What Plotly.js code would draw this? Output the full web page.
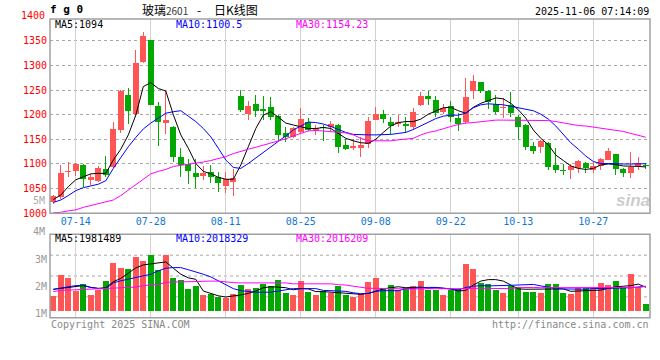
<!DOCTYPE html>
<html><head><meta charset="utf-8">
<script src="https://cdn.plot.ly/plotly-3.0.1.min.js"></script>
<style>html,body{margin:0;padding:0;background:#fff}#c{width:660px;height:360px}</style>
</head><body><div id="c"></div>
<script>
const dates = ['07-09','07-10','07-11','07-14','07-15','07-16','07-17','07-18','07-21','07-22',
 '07-23','07-24','07-25','07-28','07-29','07-30','07-31','08-01','08-04','08-05',
 '08-06','08-07','08-08','08-11','08-12','08-13','08-14','08-15','08-18','08-19',
 '08-20','08-21','08-22','08-25','08-26','08-27','08-28','08-29','09-01','09-02',
 '09-03','09-04','09-05','09-08','09-09','09-10','09-11','09-12','09-15','09-16',
 '09-17','09-18','09-19','09-22','09-23','09-24','09-25','09-26','09-29','09-30',
 '10-09','10-10','10-13','10-14','10-15','10-16','10-17','10-20','10-21','10-22',
 '10-23','10-24','10-27','10-28','10-29','10-30','10-31','11-03','11-04','11-05'];
const tickLabels = ['07-14','07-28','08-11','08-25','09-08','09-22','10-13','10-27'];

const open  = [1022,1034,1083,1085,1097,1068,1066,1089,1093,1169, 1240,1201,1306,1351,1218,1184,1174,1115,1100,1081,
 1076,1084,1074,1056,1064,1238,1201,1222,1212,1215, 1197,1162,1154,1164,1186,1168,1176,1174,1179,1139,
 1132,1132,1141,1189,1201,1185,1181,1181,1176,1220, 1238,1230,1205,1218,1194,1186,1248,1266,1249,1222,
 1213,1220,1196,1179,1137,1134,1143,1098,1088,1087, 1091,1103,1088,1096,1109,1120,1089,1082,1095,1098];
const high  = [1037,1097,1105,1103,1100,1080,1095,1116,1186,1250, 1255,1331,1367,1352,1226,1251,1177,1132,1111,1111,
 1095,1098,1084,1083,1089,1250,1228,1240,1238,1235, 1199,1174,1176,1214,1193,1179,1179,1188,1181,1150,
 1150,1155,1196,1215,1209,1195,1199,1196,1213,1245, 1247,1237,1221,1228,1203,1274,1280,1267,1250,1240,
 1233,1245,1199,1181,1145,1149,1145,1132,1100,1100, 1108,1105,1105,1112,1132,1120,1091,1125,1115,1103];
const low   = [1018,1030,1074,1075,1054,1057,1064,1074,1091,1162, 1181,1196,1305,1219,1137,1160,1105,1074,1059,1051,
 1068,1061,1044,1042,1036,1206,1189,1196,1189,1189, 1147,1145,1152,1162,1166,1159,1147,1166,1123,1128,
 1128,1115,1132,1189,1183,1160,1176,1162,1169,1218, 1220,1196,1201,1186,1166,1182,1232,1243,1211,1201,
 1193,1196,1149,1128,1120,1123,1088,1082,1078,1070, 1082,1081,1082,1088,1108,1078,1074,1071,1087,1089];
const close = [1035,1081,1086,1100,1069,1074,1091,1078,1170,1248, 1208,1305,1360,1220,1186,1189,1115,1098,1085,1074,
 1081,1074,1061,1069,1071,1210,1218,1208,1208,1196, 1159,1154,1172,1191,1169,1172,1172,1181,1135,1130,
 1137,1139,1187,1201,1191,1177,1185,1178,1206,1237, 1231,1204,1213,1196,1181,1235,1268,1249,1226,1206,
 1215,1204,1176,1135,1127,1147,1093,1088,1085,1096, 1106,1091,1095,1111,1126,1090,1082,1093,1103,1096];

const ma5  = [1028,1037,1054,1068,1074,1080,1081,1081,1108,1130, 1159,1199,1257,1265,1253,1248,1200,1159,1132,1101,
 1085,1080,1073,1069,1069,1098,1135,1172,1199,1206, 1195,1183,1179,1176,1172,1172,1174,1172,1162,1152,
 1147,1143,1142,1150,1164,1177,1184,1186,1186,1191, 1201,1208,1214,1215,1208,1203,1215,1223,1228,1234,
 1232,1223,1210,1193,1169,1152,1139,1118,1107,1096, 1091,1089,1091,1098,1100,1099,1096,1096,1095,1094];
const ma10 = [1022,1027,1036,1046,1052,1055,1059,1066,1091,1113, 1135,1154,1171,1183,1193,1203,1206,1208,1197,1186,
 1172,1155,1132,1108,1093,1091,1101,1112,1123,1135, 1145,1157,1169,1177,1185,1184,1181,1176,1170,1164,
 1160,1159,1159,1159,1159,1160,1162,1164,1170,1177, 1185,1192,1197,1199,1199,1203,1214,1220,1222,1221,
 1220,1217,1214,1211,1208,1201,1191,1177,1159,1143, 1130,1116,1105,1101,1101,1100,1100,1100,1100,1100.5];
const ma30 = [1001,1002,1005,1007,1012,1016,1019,1023,1027,1036, 1047,1057,1068,1080,1085,1089,1095,1097,1100,1101,
 1104,1107,1111,1115,1121,1126,1130,1134,1138,1142, 1147,1151,1157,1162,1167,1168,1167,1166,1165,1163,
 1159,1152,1147,1147,1147,1147,1149,1150,1152,1159, 1164,1167,1172,1176,1180,1183,1184,1186,1188,1189,
 1189,1189,1189,1189,1189,1189,1188,1186,1183,1181, 1178,1177,1175,1172,1170,1168,1166,1162,1158,1154.23];

const volume = [1654e3,2433e3,2322e3,1855e3,2099e3,1699e3,1877e3,2211e3,2878e3,2700e3,
 2655e3,3100e3,2956e3,3178e3,2622e3,3178e3,2322e3,2255e3,1921e3,2033e3,
 1699e3,1732e3,1621e3,1588e3,1732e3,2066e3,1921e3,1955e3,2099e3,2033e3,
 2255e3,1766e3,1699e3,2211e3,1810e3,1699e3,1843e3,1766e3,2033e3,1699e3,
 1621e3,1732e3,2177e3,2322e3,1955e3,2066e3,1877e3,1955e3,2033e3,2211e3,
 1877e3,1877e3,1699e3,1899e3,1921e3,2845e3,2655e3,2144e3,2099e3,1877e3,
 1766e3,2033e3,1988e3,1810e3,1810e3,1766e3,2099e3,2099e3,1766e3,1732e3,
 1955e3,1944e3,1944e3,2144e3,2066e3,2211e3,1955e3,2478e3,1988e3,1354e3];
const vma5 = [1905e3,1944e3,1966e3,2000e3,2044e3,1977e3,1944e3,1966e3,2188e3,2311e3,
 2500e3,2700e3,2811e3,2845e3,2867e3,2923e3,2689e3,2466e3,2333e3,2277e3,
 1843e3,1755e3,1666e3,1621e3,1654e3,1699e3,1755e3,1843e3,1966e3,2000e3,
 1988e3,1966e3,1888e3,1933e3,1921e3,1821e3,1821e3,1799e3,1777e3,1755e3,
 1743e3,1721e3,1755e3,1843e3,1921e3,1966e3,2000e3,1966e3,1977e3,1988e3,
 1944e3,1966e3,1944e3,1921e3,1843e3,1866e3,2066e3,2211e3,2266e3,2266e3,
 2211e3,2066e3,1921e3,1910e3,1910e3,1921e3,1910e3,1910e3,1921e3,1832e3,
 1843e3,1843e3,1843e3,1877e3,1944e3,2000e3,2021e3,2044e3,2100e3,1981e3];
const vma10 = [1905e3,1966e3,2000e3,2044e3,2055e3,1977e3,1932e3,1932e3,2144e3,2222e3,
 2277e3,2333e3,2411e3,2466e3,2589e3,2689e3,2711e3,2711e3,2633e3,2555e3,
 2466e3,2366e3,2211e3,2066e3,1932e3,1855e3,1821e3,1799e3,1799e3,1799e3,
 1843e3,1888e3,1932e3,1932e3,1932e3,1932e3,1866e3,1855e3,1855e3,1832e3,
 1777e3,1743e3,1755e3,1832e3,1855e3,1855e3,1855e3,1932e3,1955e3,1966e3,
 1977e3,1977e3,1955e3,1921e3,1877e3,1977e3,2021e3,2044e3,2033e3,2033e3,
 2044e3,2055e3,2066e3,2077e3,2088e3,2033e3,1977e3,1932e3,1921e3,1910e3,
 1910e3,1910e3,1932e3,1932e3,1932e3,1944e3,1955e3,1966e3,1988e3,2018e3];
const vma30 = [1821e3,1866e3,1877e3,1888e3,1910e3,1910e3,1921e3,1932e3,1944e3,1944e3,
 1966e3,1988e3,2044e3,2066e3,2088e3,2166e3,2177e3,2188e3,2199e3,2199e3,
 2211e3,2211e3,2211e3,2177e3,2155e3,2144e3,2144e3,2155e3,2166e3,2166e3,
 2155e3,2144e3,2110e3,2099e3,2110e3,2110e3,2110e3,2110e3,2077e3,2066e3,
 2021e3,1977e3,1944e3,1944e3,1932e3,1921e3,1921e3,1921e3,1921e3,1921e3,
 1921e3,1921e3,1921e3,1932e3,1910e3,1932e3,1944e3,1944e3,1944e3,1932e3,
 1921e3,1932e3,1966e3,1977e3,1977e3,1966e3,1966e3,1966e3,1966e3,1977e3,
 1977e3,1977e3,1977e3,1977e3,1966e3,1966e3,1966e3,1966e3,1977e3,2016e3];

const RED = '#ff5555', GREEN = '#00a800';
const idx = dates.map((d, i) => i);
const up = close.map((c, i) => c >= open[i]);
const cols = up.map(u => u ? RED : GREEN);
const VBASE = 1113e3;
const PRANGE = [1000, 1394], VRANGE = [0.854e6, 3.946e6];

const W = 660, H = 360;
const px = x => x / W, py = y => 1 - y / H;
const MONO = 'DejaVu Sans Mono';
const GRID = '#a8a8a8';
const tickIdx = tickLabels.map(d => dates.indexOf(d));

const traces = [
  // vertical date grid (thin light bars spanning each panel at the labelled dates)
  {type:'bar', x:tickIdx, base:PRANGE[0], y:tickIdx.map(() => PRANGE[1] - PRANGE[0]), width:0.13,
   marker:{color:'#d2d2d2', line:{width:0}}, xaxis:'x', yaxis:'y', hoverinfo:'skip'},
  {type:'bar', x:tickIdx, base:VRANGE[0], y:tickIdx.map(() => VRANGE[1] - VRANGE[0]), width:0.13,
   marker:{color:'#d2d2d2', line:{width:0}}, xaxis:'x2', yaxis:'y2', hoverinfo:'skip'},
  {type:'bar', x:idx, base:low, y:high.map((h,i)=>h-low[i]), width:0.15,
   marker:{color:cols, line:{width:0}}, xaxis:'x', yaxis:'y', hoverinfo:'skip'},
  {type:'bar', x:idx, base:open.map((o,i)=>Math.min(o,close[i])),
   y:open.map((o,i)=>Math.max(Math.abs(close[i]-o),1.6)), width:0.8,
   marker:{color:cols, line:{width:0}}, xaxis:'x', yaxis:'y', hoverinfo:'skip'},
  {type:'scatter', mode:'lines', x:idx, y:ma5, line:{color:'#000000', width:1}, xaxis:'x', yaxis:'y'},
  {type:'scatter', mode:'lines', x:idx, y:ma10, line:{color:'#0000ff', width:1}, xaxis:'x', yaxis:'y'},
  {type:'scatter', mode:'lines', x:idx, y:ma30, line:{color:'#ff00ff', width:1}, xaxis:'x', yaxis:'y'},
  {type:'bar', x:idx, base:VBASE, y:volume.map(v=>v-VBASE), width:0.8,
   marker:{color:cols, line:{width:0}}, xaxis:'x2', yaxis:'y2', hoverinfo:'skip'},
  {type:'scatter', mode:'lines', x:idx, y:vma5, line:{color:'#000000', width:1}, xaxis:'x2', yaxis:'y2'},
  {type:'scatter', mode:'lines', x:idx, y:vma10, line:{color:'#0000ff', width:1}, xaxis:'x2', yaxis:'y2'},
  {type:'scatter', mode:'lines', x:idx, y:vma30, line:{color:'#ff00ff', width:1}, xaxis:'x2', yaxis:'y2'}
];

const xDom = [px(50), px(650)];
const xr = [-0.44, dates.length - 0.44];

function ann(text, x, y, color, anchor, size, extra) {
  return Object.assign({text:text, x:px(x), y:py(y), xref:'paper', yref:'paper', showarrow:false,
    xanchor:anchor, yanchor:'middle', font:{family:MONO, size:size||10, color:color}}, extra||{});
}
const CJK = {family:'Noto Sans CJK SC', size:12, color:'#000'};

const layout = {
  width:W, height:H, margin:{l:0,r:0,t:0,b:0}, paper_bgcolor:'#ffffff', plot_bgcolor:'#ffffff',
  showlegend:false, barmode:'overlay', bargap:0,
  xaxis:{domain:xDom, range:xr, anchor:'y', type:'linear', tickmode:'array', tickvals:tickIdx, ticktext:tickLabels,
    ticks:'', showticklabels:true, tickfont:{family:MONO, size:10, color:'#1078d0'}, ticklabelstandoff:1,
    showgrid:true, gridcolor:GRID, griddash:'dot', gridwidth:1, zeroline:false, showline:false},
  xaxis2:{domain:xDom, range:xr, anchor:'y2', type:'linear', tickmode:'array', tickvals:tickIdx, ticks:'',
    showticklabels:false, showgrid:true, gridcolor:GRID, griddash:'dot', gridwidth:1, zeroline:false, showline:false},
  yaxis:{domain:[py(213.3), py(19)], range:PRANGE, anchor:'x', tick0:1000, dtick:50, ticks:'',
    tickfont:{family:MONO, size:10, color:'#ff0000'}, showgrid:true, gridcolor:GRID, griddash:'dot', gridwidth:1,
    zeroline:false, showline:false, ticklabelstandoff:2},
  yaxis2:{domain:[py(317.7), py(234.3)], range:VRANGE, anchor:'x2', tickvals:[1e6,2e6,3e6],
    ticktext:['1M','2M','3M'], ticks:'', tickfont:{family:MONO, size:10, color:'#999999'}, showgrid:false,
    zeroline:false, showline:false, ticklabelstandoff:2},
  shapes:[
    {type:'line', xref:'paper', yref:'paper', x0:px(50), x1:px(650), y0:py(255.2), y1:py(255.2), line:{color:GRID, width:1, dash:'dot'}, layer:'below'},
    {type:'line', xref:'paper', yref:'paper', x0:px(50), x1:px(650), y0:py(276), y1:py(276), line:{color:GRID, width:1, dash:'dot'}, layer:'below'},
    {type:'line', xref:'paper', yref:'paper', x0:px(50), x1:px(650), y0:py(296.9), y1:py(296.9), line:{color:GRID, width:1, dash:'dot'}, layer:'below'},
    {type:'rect', xref:'paper', yref:'paper', x0:px(50), x1:px(650), y0:py(213.3), y1:py(19), line:{color:'#a0a0a0', width:1.5}},
    {type:'rect', xref:'paper', yref:'paper', x0:px(50), x1:px(650), y0:py(317.7), y1:py(234.3), line:{color:'#a0a0a0', width:1.5}}
  ],
  annotations:[
    ann('<b>f g 0</b>', 48, 9, '#000000', 'left', 11),
    ann('玻璃<span style="font-size:10px;color:#333">2601</span>', 140, 9, '#000', 'left', 12, {font:CJK}),
    ann('-', 199, 9, '#000', 'center', 12, {font:CJK}),
    ann('日K线图', 212, 9, '#000', 'left', 12, {font:CJK}),
    ann('2025-11-06 07:14:09', 651, 11, '#000000', 'right', 10),
    ann('1400', 47, 16, '#ff0000', 'right', 10),
    ann('MA5:1094', 53, 25, '#000000', 'left', 10),
    ann('MA10:1100.5', 174, 25, '#0000ff', 'left', 10),
    ann('MA30:1154.23', 294, 25, '#ff00ff', 'left', 10),
    ann('5M', 47, 200, '#aaaaaa', 'right', 10),
    ann('<b><i>sina</i></b>', 652, 200, 'rgba(160,160,160,0.55)', 'right', 16, {font:{family:'Liberation Sans', size:17, color:'rgba(160,160,160,0.55)'}}),
    ann('4M', 47, 231, '#999999', 'right', 10),
    ann('MA5:1981489', 53, 238, '#000000', 'left', 10),
    ann('MA10:2018329', 174, 238, '#0000ff', 'left', 10),
    ann('MA30:2016209', 294, 238, '#ff00ff', 'left', 10),
    ann('Copyright 2025 SINA.COM', 49, 324, '#888888', 'left', 10),
    ann('http://finance.sina.com.cn', 651, 324, '#888888', 'right', 10)
  ]
};

Plotly.newPlot('c', traces, layout, {staticPlot:true, displayModeBar:false});
</script></body></html>
